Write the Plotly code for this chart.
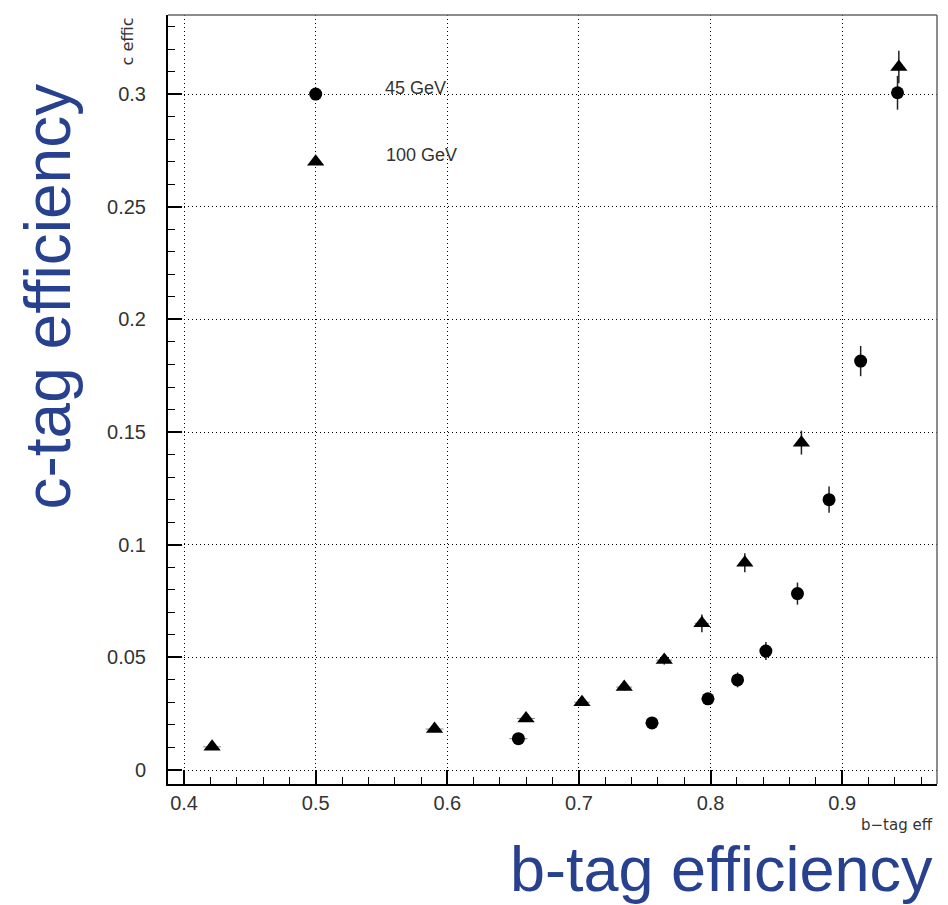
import plotly.graph_objects as go

# 45 GeV sample: b-tag efficiency vs c-tag efficiency (circles)
b_eff_45 = [0.654, 0.7555, 0.798, 0.8205, 0.842, 0.866, 0.890, 0.914, 0.942]
c_eff_45 = [0.0139, 0.0209, 0.0316, 0.040, 0.0528, 0.0783, 0.120, 0.1815, 0.3006]
c_err_45 = [0.0015, 0.002, 0.0025, 0.0033, 0.004, 0.0049, 0.0058, 0.0067, 0.0075]
b_err_45 = [0.0068, 0.005, 0.005, 0.003, 0.002, 0.0, 0.0, 0.0, 0.0]

# 100 GeV sample (triangles)
b_eff_100 = [0.4213, 0.5903, 0.6598, 0.7023, 0.7344, 0.7648, 0.7934, 0.826, 0.869, 0.943]
c_eff_100 = [0.0103, 0.0182, 0.0229, 0.0301, 0.0368, 0.0488, 0.0651, 0.092, 0.1453, 0.312]
c_err_100 = [0.0005, 0.001, 0.001, 0.0012, 0.0015, 0.002, 0.0039, 0.0042, 0.0053, 0.0072]
b_err_100 = [0.0068, 0.0068, 0.0068, 0.006, 0.006, 0.006, 0.0055, 0.003, 0.0, 0.0]

# key entries drawn inside the frame
key_labels = ["45 GeV", "100 GeV"]
key_x = [0.5, 0.5]
key_y = [0.3, 0.27]
key_symbols = ["circle", "triangle-up"]
key_text_x = [0.551, 0.552]
key_text_y = [0.3027, 0.273]

x_range = [0.3878, 0.972]
y_range = [-0.0062, 0.3351]

BLUE = "#27418f"
TXT = "#333333"
TICK_FONT = dict(family="Liberation Sans, Arial, sans-serif", size=20, color=TXT)
SIZES = {"circle": 13, "triangle-up": 15}

fig = go.Figure()

fig.add_trace(go.Scatter(
    x=b_eff_45, y=c_eff_45, mode="markers", name=key_labels[0],
    marker=dict(symbol="circle", size=SIZES["circle"], color="black"),
    error_y=dict(type="data", array=c_err_45, color="#222222", thickness=1.5, width=0),
    error_x=dict(type="data", array=b_err_45, color="#777777", thickness=1, width=0),
    showlegend=False,
))

fig.add_trace(go.Scatter(
    x=b_eff_100, y=c_eff_100, mode="markers", name=key_labels[1],
    marker=dict(symbol="triangle-up", size=SIZES["triangle-up"], color="black"),
    error_y=dict(type="data", array=c_err_100, color="#222222", thickness=1.5, width=0),
    error_x=dict(type="data", array=b_err_100, color="#888888", thickness=1, width=0),
    showlegend=False,
))

# key symbols and their labels
for lab, kx, ky, sym, tx, ty in zip(key_labels, key_x, key_y, key_symbols, key_text_x, key_text_y):
    fig.add_trace(go.Scatter(
        x=[kx], y=[ky], mode="markers",
        marker=dict(symbol=sym, size=SIZES[sym], color="black"),
        showlegend=False, hoverinfo="skip",
    ))
    fig.add_annotation(x=tx, y=ty, xref="x", yref="y", text=lab, showarrow=False,
                       xanchor="left", yanchor="middle",
                       font=dict(family="Liberation Sans, Arial, sans-serif", size=18, color=TXT))

axis_common = dict(
    showgrid=True, gridcolor="black", gridwidth=1, griddash="1px,3px",
    zeroline=False, showline=True, linecolor="black", linewidth=2, mirror=False,
    ticks="inside", ticklen=14, tickwidth=1.5, tickcolor="black",
    tickfont=TICK_FONT,
)

fig.update_xaxes(range=x_range, tick0=0.4, dtick=0.1,
                 minor=dict(dtick=0.02, tick0=0.4, ticklen=7, tickcolor="black",
                            tickwidth=1, ticks="inside", showgrid=False),
                 ticklabelstandoff=0, **axis_common)
fig.update_yaxes(range=y_range, tick0=0, dtick=0.05,
                 minor=dict(dtick=0.01, tick0=0, ticklen=7, tickcolor="black",
                            tickwidth=1, ticks="inside", showgrid=False),
                 ticklabelstandoff=16, **axis_common)

# top and right frame edges
fig.add_shape(type="line", xref="paper", yref="paper", x0=0, x1=1, y0=1, y1=1,
              line=dict(color="#666666", width=1.5))
fig.add_shape(type="line", xref="paper", yref="paper", x0=1, x1=1, y0=0, y1=1,
              line=dict(color="#666666", width=1.5))

# small axis titles
fig.add_annotation(x=-0.053, y=0.966, xref="paper", yref="paper", text="c effic",
                   textangle=-90, showarrow=False, xanchor="center", yanchor="middle",
                   font=dict(family="DejaVu Sans, sans-serif", size=16, color=TXT))
fig.add_annotation(x=0.997, y=-0.053, xref="paper", yref="paper", text="b\u2212tag eff",
                   showarrow=False, xanchor="right", yanchor="middle",
                   font=dict(family="DejaVu Sans, sans-serif", size=15, color=TXT))

# large axis titles
fig.add_annotation(x=-0.156, y=0.634, xref="paper", yref="paper", text="c-tag efficiency",
                   textangle=-90, showarrow=False, xanchor="center", yanchor="middle",
                   font=dict(family="Liberation Sans, Arial, sans-serif", size=64, color=BLUE))
fig.add_annotation(x=0.9974, y=-0.1105, xref="paper", yref="paper", text="b-tag efficiency",
                   showarrow=False, xanchor="right", yanchor="middle",
                   font=dict(family="Liberation Sans, Arial, sans-serif", size=63, color=BLUE))

fig.update_layout(
    width=948, height=905, autosize=False,
    margin=dict(l=168, r=11, t=15, b=121),
    paper_bgcolor="white", plot_bgcolor="white",
)

fig.write_html("out.html")
